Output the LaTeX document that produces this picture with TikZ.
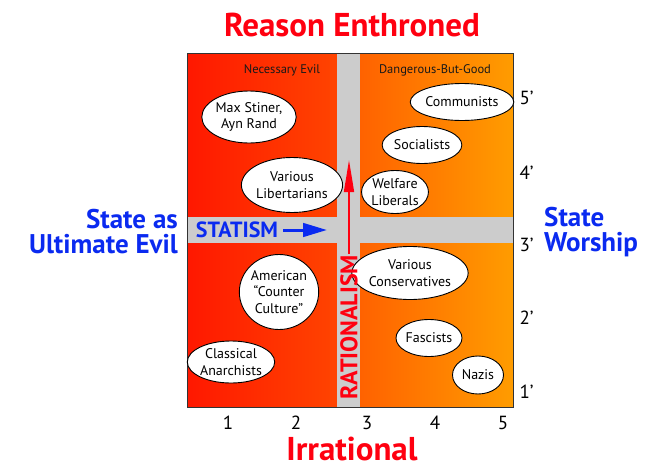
\documentclass[tikz,border=0pt]{standalone}
\usepackage{fontspec}
\setmainfont{PT Sans}
\usetikzlibrary{arrows.meta,shapes.geometric}
\definecolor{qred}{HTML}{FF1800}
\definecolor{qredmid}{HTML}{FF4400}
\definecolor{qorgmid}{HTML}{FF6200}
\definecolor{qorange}{HTML}{FF9C00}
\definecolor{qgrey}{HTML}{CCCCCC}
\definecolor{qblue}{HTML}{0A2AF0}
\definecolor{qtitle}{HTML}{FF0010}

\begin{document}
\begin{tikzpicture}[x=1pt, y=-1pt,
        grp/.style={ellipse, draw=black, line width=0.9pt, fill=white, inner sep=0pt,
                    align=center, font=\fontsize{14}{16.5}\selectfont},
        quad/.style={text=black!90, font=\fontsize{12.5}{14}\selectfont},
        tick/.style={font=\fontsize{19}{20}\selectfont},
        axis/.style={text=qtitle, inner sep=0pt, font=\bfseries\fontsize{33}{34}\selectfont},
        side/.style={text=qblue, inner sep=0pt, font=\bfseries\fontsize{27}{25}\selectfont},
        arr/.style={-{Triangle[length=#1]}}]
        \useasboundingbox (0,0) rectangle (654,469);
        % background of the chart
        \shade[left color=qred, right color=qredmid] (187,53) rectangle (337,407);
        \shade[left color=qorgmid, right color=qorange] (360,53) rectangle (513,407);
        \fill[qgrey] (337,53) rectangle (360,407);
        \fill[qgrey] (187,217) rectangle (513,243);
        \draw[line width=0.9pt, black!80] (187,53) rectangle (513,407);
        % axis titles
        \node[axis] (top) at (352,25) {Reason Enthroned};
        \node[axis] (bot) at (352,449) {Irrational};
        \node[side, align=right, anchor=east] (left) at (178,232) {State as\\Ultimate Evil};
        \node[side, align=left, anchor=west] (right) at (544,232) {State\\Worship};
        % quadrant names
        \node[quad] (nec) at (282,70) {Necessary Evil};
        \node[quad] (dan) at (435,70) {Dangerous-But-Good};
        % groups
        \node[grp, minimum width=88, minimum height=52] (stiner) at (249,117) {Max Stiner,\\Ayn Rand};
        \node[grp, minimum width=87, minimum height=55] (libs) at (292,185) {Various\\Libertarians};
        \node[grp, minimum width=87, minimum height=37] (comm) at (462,102) {Communists};
        \node[grp, minimum width=61, minimum height=37] (soc) at (422,145) {Socialists};
        \node[grp, minimum width=63, minimum height=43] (welf) at (395,192) {Welfare\\Liberals};
        \node[grp, minimum width=73, minimum height=75] (amer) at (279,292) {American\\“Counter\\Culture”};
        \node[grp, minimum width=78, minimum height=42] (anar) at (231,362) {Classical\\Anarchists};
        \node[grp, minimum width=93, minimum height=53] (cons) at (410,273) {Various\\Conservatives};
        \node[grp, minimum width=60, minimum height=37] (fasc) at (429,338) {Fascists};
        \node[grp, minimum width=51, minimum height=38] (nazi) at (478,375) {Nazis};
        % the two axes
        \node[text=qblue, font=\bfseries\fontsize{22}{22}\selectfont, inner sep=1pt] (stat) at (237,230) {STATISM};
        \coordinate (stattip) at (327,230);
        \draw[arr=24pt, qblue, line width=3pt] (stat.east) ++(4,0) -- (stattip);
        \node[text=qtitle, font=\bfseries\fontsize{24}{24}\selectfont, rotate=90, inner sep=1pt] (rat) at (349,327) {RATIONALISM};
        \coordinate (rattip) at (349,160);
        \draw[arr=32pt, qtitle, line width=2pt] (rat.east) -- (rattip);
        % scale numbers
        \foreach \n/\x in {1/228, 2/296, 3/367, 4/435, 5/503}
          \node[tick] (x\n) at (\x,423) {\n};
        \foreach \n/\y in {1/392, 2/318, 3/245, 4/173, 5/98}
          \node[tick, anchor=west] (y\n) at (516,\y) {\n’};
      \end{tikzpicture}
\end{document}
